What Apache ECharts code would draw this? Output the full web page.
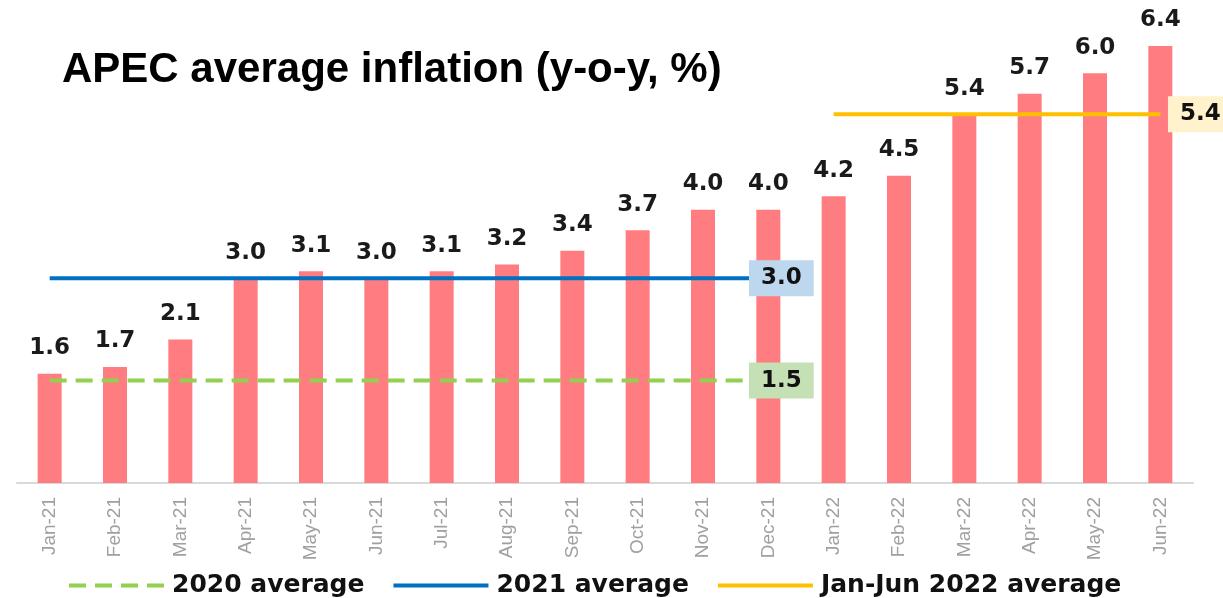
<!DOCTYPE html>
<html>
<head>
<meta charset="utf-8">
<script src="https://cdn.jsdelivr.net/npm/echarts@6/dist/echarts.min.js"></script>
<style>
  html, body { margin: 0; padding: 0; background: #fff; }
  #main { width: 1223px; height: 598px; }
</style>
</head>
<body>
<div id="main"></div>
<script>
// 数据
var months = ['Jan-21', 'Feb-21', 'Mar-21', 'Apr-21', 'May-21', 'Jun-21', 'Jul-21', 'Aug-21', 'Sep-21',
    'Oct-21', 'Nov-21', 'Dec-21', 'Jan-22', 'Feb-22', 'Mar-22', 'Apr-22', 'May-22', 'Jun-22'];
var inflation = [1.6, 1.7, 2.1, 3.0, 3.1, 3.0, 3.1, 3.2, 3.4, 3.7, 4.0, 4.0, 4.2, 4.5, 5.4, 5.7, 6.0, 6.4];
var avg2020 = 1.5;
var avg2021 = 3.0;
var avg2022 = 5.4;
// 平均线覆盖的月份范围 [起, 止]
var range2020 = [0, 11];
var range2021 = [0, 11];
var range2022 = [12, 17];

var boldFont = '"DejaVu Sans", sans-serif';

// 生成平均线数据，只在最后一个点显示标签
function avgLine(value, range, bg, offsetX) {
    var arr = [];
    for (var i = 0; i < months.length; i++) {
        if (i < range[0] || i > range[1]) {
            arr.push(null);
        } else if (i == range[1]) {
            arr.push({
                value: value,
                label: {
                    show: true,
                    position: 'inside',
                    offset: [offsetX, 0],
                    formatter: value.toFixed(1),
                    fontFamily: boldFont,
                    fontWeight: 'bold',
                    fontSize: 23,
                    color: '#111',
                    backgroundColor: bg,
                    padding: [7, 12, 6, 12]
                }
            });
        } else {
            arr.push(value);
        }
    }
    return arr;
}

var chart = echarts.init(document.getElementById('main'));

var option = {
    animation: false,
    title: {
        text: 'APEC average inflation (y-o-y, %)',
        left: 57,
        top: 44,
        textStyle: {
            fontFamily: '"Liberation Sans", Arial, sans-serif',
            fontWeight: 'bold',
            fontSize: 42,
            color: '#000'
        }
    },
    legend: {
        left: 62,
        top: 568,
        itemGap: 27,
        itemWidth: 95,
        itemHeight: 14,
        itemStyle: { opacity: 0 },
        lineStyle: { width: 4 },
        data: ['2020 average', '2021 average', 'Jan-Jun 2022 average'],
        textStyle: {
            fontFamily: boldFont,
            fontWeight: 'bold',
            fontSize: 25,
            color: '#111',
            padding: [0, 0, 0, 3]
        }
    },
    grid: {
        left: 17,
        right: 30,
        top: 5,
        bottom: 115
    },
    xAxis: {
        type: 'category',
        data: months,
        axisTick: { show: false },
        axisLine: { lineStyle: { color: '#d9d9d9', width: 2 } },
        axisLabel: {
            interval: 0,
            rotate: 90,
            margin: 14,
            fontFamily: '"Liberation Sans", Arial, sans-serif',
            fontSize: 19,
            color: '#a0a0a0'
        }
    },
    yAxis: {
        type: 'value',
        min: 0,
        max: 7,
        show: false,
        splitLine: { show: false }
    },
    series: [
        {
            name: 'Inflation',
            type: 'bar',
            data: inflation,
            barWidth: 24,
            itemStyle: { color: '#ff7c80' },
            label: {
                show: true,
                position: 'top',
                distance: 14,
                formatter: function (p) { return p.value.toFixed(1); },
                fontFamily: boldFont,
                fontWeight: 'bold',
                fontSize: 23,
                color: '#1a1a1a'
            },
            z: 2
        },
        {
            name: '2020 average',
            type: 'line',
            data: avgLine(avg2020, range2020, '#c5e0b4', 13),
            symbol: 'circle',
            symbolSize: 0,
            showAllSymbol: true,
            lineStyle: { color: '#92d050', width: 4, type: [17, 9] },
            itemStyle: { color: '#92d050' },
            z: 5
        },
        {
            name: '2021 average',
            type: 'line',
            data: avgLine(avg2021, range2021, '#bdd7ee', 13),
            symbol: 'circle',
            symbolSize: 0,
            showAllSymbol: true,
            lineStyle: { color: '#0070c0', width: 4 },
            itemStyle: { color: '#0070c0' },
            z: 5
        },
        {
            name: 'Jan-Jun 2022 average',
            type: 'line',
            data: avgLine(avg2022, range2022, '#fff2cc', 40),
            symbol: 'circle',
            symbolSize: 0,
            showAllSymbol: true,
            lineStyle: { color: '#ffc000', width: 4 },
            itemStyle: { color: '#ffc000' },
            z: 5
        }
    ]
};

chart.setOption(option);
</script>
</body>
</html>
